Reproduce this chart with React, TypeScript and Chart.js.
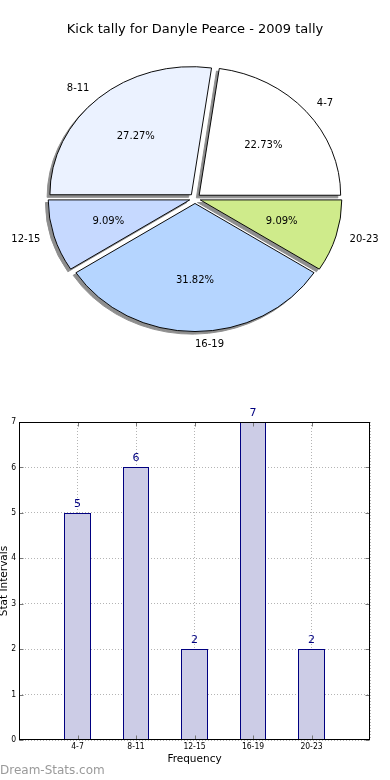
import React, { useEffect, useRef } from "react";
import { Chart, registerables } from "chart.js";

Chart.register(...registerables);

// ---- data ----
const categories = ["4-7", "8-11", "12-15", "16-19", "20-23"];
const kicks = [5, 6, 2, 7, 2];
const sliceColors = ["#ffffff", "#ebf2ff", "#c6d9ff", "#b5d5ff", "#cfeb8b"];
const yTickValues = [0, 1, 2, 3, 4, 5, 6, 7];
const titleText = "Kick tally for Danyle Pearce - 2009 tally";
const xTitle = "Frequency";
const yTitle = "Stat Intervals";
const watermark = "Dream-Stats.com";

// ---- style constants ----
const SY = 0.905; // vertical squash of the pie (ellipse)
const PIE_R = 141.5;
const EXPLODE = 5.5; // px each wedge is pushed out along its mid-angle
const SHADOW_DX = -2.8;
const SHADOW_DY = 2.6;
const FONT = '"DejaVu Sans", sans-serif';
const NARROW = '"Liberation Sans Narrow", "DejaVu Sans Condensed", "DejaVu Sans", sans-serif';

const ellipsePlugin = {
  id: "ellipsePie",
  beforeDatasetsDraw(chart: any) {
    const arcs = chart.getDatasetMeta(0).data;
    const ctx = chart.ctx;
    ctx.save();
    if (!arcs.length) return;
    const cx = arcs[0].x;
    const cy = arcs[0].y;
    ctx.translate(cx, cy);
    ctx.scale(1, SY);
    ctx.translate(-cx, -cy);
    // explode each wedge by wrapping the library's own arc drawing
    for (const a of arcs) {
      if (!a._exploded) {
        const orig = a.draw;
        a.draw = function (c: any, area: any) {
          const mid = (this.startAngle + this.endAngle) / 2;
          c.save();
          c.translate(Math.cos(mid) * EXPLODE, Math.sin(mid) * EXPLODE);
          orig.call(this, c, area);
          c.restore();
        };
        a._exploded = true;
      }
    }
    // shadows beneath all wedges
    ctx.save();
    ctx.fillStyle = "#8e8e8e";
    ctx.strokeStyle = "#8e8e8e";
    ctx.lineWidth = 1;
    for (const a of arcs) {
      const mid = (a.startAngle + a.endAngle) / 2;
      const ox = cx + Math.cos(mid) * EXPLODE + SHADOW_DX;
      const oy = cy + Math.sin(mid) * EXPLODE + SHADOW_DY / SY;
      ctx.beginPath();
      ctx.moveTo(ox, oy);
      ctx.arc(ox, oy, a.outerRadius, a.startAngle, a.endAngle);
      ctx.closePath();
      ctx.fill();
      ctx.stroke();
    }
    ctx.restore();
  },
  afterDatasetsDraw(chart: any) {
    const ctx = chart.ctx;
    ctx.restore();
    const arcs = chart.getDatasetMeta(0).data;
    if (!arcs.length) return;
    const values: number[] = chart.data.datasets[0].data;
    const labels: string[] = chart.data.labels;
    const total = values.reduce((s, v) => s + v, 0);
    ctx.save();
    ctx.fillStyle = "#000";
    ctx.font = `10px ${FONT}`;
    ctx.textBaseline = "middle";
    arcs.forEach((a: any, j: number) => {
      const mid = (a.startAngle + a.endAngle) / 2;
      const c = Math.cos(mid);
      const s = Math.sin(mid);
      const pos = (k: number) => {
        const d = EXPLODE + k * PIE_R;
        return { x: a.x + c * d, y: a.y + s * d * SY };
      };
      const lp = pos(1.1);
      ctx.textAlign = c > -1e-9 ? "left" : "right";
      ctx.fillText(labels[j], lp.x, lp.y);
      const pp = pos(0.6);
      ctx.textAlign = "center";
      ctx.fillText(((values[j] / total) * 100).toFixed(2) + "%", pp.x, pp.y);
    });
    ctx.restore();
  },
};

const barPlugin = {
  id: "barDecor",
  beforeDatasetsDraw(chart: any) {
    // snap library-computed bar edges to whole pixels for crisp outlines
    chart.getDatasetMeta(0).data.forEach((b: any) => {
      const l = Math.round(b.x - b.width / 2);
      const r = Math.round(b.x + b.width / 2);
      b.x = (l + r) / 2;
      b.width = r - l;
      b.y = Math.round(b.y);
      b.base = Math.round(b.base);
    });
  },
  afterDatasetsDraw(chart: any) {
    const ctx = chart.ctx;
    const meta = chart.getDatasetMeta(0);
    const vals: any[] = chart.data.datasets[0].data;
    ctx.save();
    ctx.fillStyle = "#000080";
    ctx.font = `11px ${FONT}`;
    ctx.textAlign = "center";
    ctx.textBaseline = "alphabetic";
    meta.data.forEach((b: any, i: number) => {
      ctx.fillText(String(vals[i].y), b.x, b.y - 6);
    });
    ctx.restore();
  },
  afterDraw(chart: any) {
    const ctx = chart.ctx;
    const { left, top, right, bottom } = chart.chartArea;
    const L = Math.round(left) + 0.5;
    const T = Math.round(top) + 0.5;
    const R = Math.round(right) - 0.5;
    const B = Math.round(bottom) - 0.5;
    ctx.save();
    // inner tick marks
    ctx.strokeStyle = "#777";
    ctx.lineWidth = 1;
    const xs = chart.scales.x;
    const ys = chart.scales.y;
    ctx.beginPath();
    for (let i = 1; i <= categories.length; i++) {
      const x = Math.round(xs.getPixelForValue(i)) + 0.5;
      ctx.moveTo(x, B);
      ctx.lineTo(x, B - 4);
      ctx.moveTo(x, T);
      ctx.lineTo(x, T + 4);
    }
    yTickValues.forEach((v) => {
      const y = Math.round(ys.getPixelForValue(v)) + 0.5;
      ctx.moveTo(L, y);
      ctx.lineTo(L + 4, y);
      ctx.moveTo(R, y);
      ctx.lineTo(R - 4, y);
    });
    ctx.stroke();
    // frame
    ctx.strokeStyle = "#000";
    ctx.lineWidth = 1;
    ctx.strokeRect(L, T, R - L, B - T);
    ctx.restore();
  },
};

export default function App() {
  const pieRef = useRef<HTMLCanvasElement>(null);
  const barRef = useRef<HTMLCanvasElement>(null);

  useEffect(() => {
    const pie = new Chart(pieRef.current as HTMLCanvasElement, {
      type: "pie",
      data: {
        labels: [...categories].reverse(),
        datasets: [
          {
            data: [...kicks].reverse(),
            backgroundColor: [...sliceColors].reverse(),
            borderColor: "#000",
            borderWidth: 1,
            clip: false,
          } as any,
        ],
      },
      options: {
        animation: false,
        responsive: false,
        events: [],
        rotation: 90,
        radius: PIE_R,
        layout: { padding: { top: 0, bottom: 40.6, left: 0, right: 0 } },
        plugins: {
          legend: { display: false },
          tooltip: { enabled: false },
          title: {
            display: true,
            text: titleText,
            color: "#000",
            font: { family: FONT, size: 13, weight: "normal" },
            padding: { top: 22, bottom: 10 },
          },
        },
      } as any,
      plugins: [ellipsePlugin],
    });

    const bar = new Chart(barRef.current as HTMLCanvasElement, {
      type: "bar",
      data: {
        datasets: [
          {
            data: categories.map((c, i) => ({ x: i + 1, y: kicks[i] })),
            backgroundColor: "#ccccE6",
            borderColor: "#000080",
            borderWidth: 1,
            borderSkipped: false,
            categoryPercentage: 1,
            barPercentage: 0.46,
          } as any,
        ],
      },
      options: {
        animation: false,
        responsive: false,
        events: [],
        layout: { padding: { top: 32, right: 20, left: 0, bottom: 0 } },
        plugins: { legend: { display: false }, tooltip: { enabled: false } },
        scales: {
          x: {
            type: "linear",
            min: 0,
            max: categories.length + 1,
            offset: false,
            z: 1,
            grid: { offset: false, color: "#b4b4b4", lineWidth: 1, drawTicks: false },
            border: { display: false, dash: [1, 2] },
            ticks: {
              stepSize: 1,
              autoSkip: false,
              maxRotation: 0,
              padding: 2,
              color: "#000",
              font: { family: NARROW, size: 8.5 },
              callback: (v: any) => categories[Number(v) - 1] ?? "",
            },
            title: {
              display: true,
              text: xTitle,
              color: "#000",
              font: { family: FONT, size: 10.5 },
              padding: { top: 0, bottom: 14 },
            },
            afterFit: (s: any) => {
              s.height = 40;
            },
          },
          y: {
            min: yTickValues[0],
            max: yTickValues[yTickValues.length - 1],
            z: 1,
            grid: { color: "#b4b4b4", lineWidth: 1, drawTicks: false },
            border: { display: false, dash: [1, 2] },
            ticks: {
              stepSize: 1,
              padding: 3,
              color: "#000",
              font: { family: NARROW, size: 8.5 },
            },
            title: {
              display: true,
              text: yTitle,
              color: "#000",
              font: { family: FONT, size: 10.5 },
              padding: { top: -2.5, bottom: 0 },
            },
            afterFit: (s: any) => {
              s.width = 19;
            },
          },
        },
      } as any,
      plugins: [barPlugin],
    });

    return () => {
      pie.destroy();
      bar.destroy();
    };
  }, []);

  return (
    <div
      style={{
        position: "absolute",
        left: 0,
        top: 0,
        width: 390,
        height: 780,
        background: "#fff",
        overflow: "hidden",
      }}
    >
      <canvas
        ref={pieRef}
        width={390}
        height={390}
        style={{ position: "absolute", left: 0, top: 0, width: 390, height: 390 }}
      />
      <canvas
        ref={barRef}
        width={390}
        height={390}
        style={{ position: "absolute", left: 0, top: 390, width: 390, height: 390 }}
      />
      <div
        style={{
          position: "absolute",
          left: 0,
          top: 764,
          font: `12px ${FONT}`,
          lineHeight: "12px",
          color: "#9a9a9a",
          whiteSpace: "nowrap",
        }}
      >
        {watermark}
      </div>
    </div>
  );
}
